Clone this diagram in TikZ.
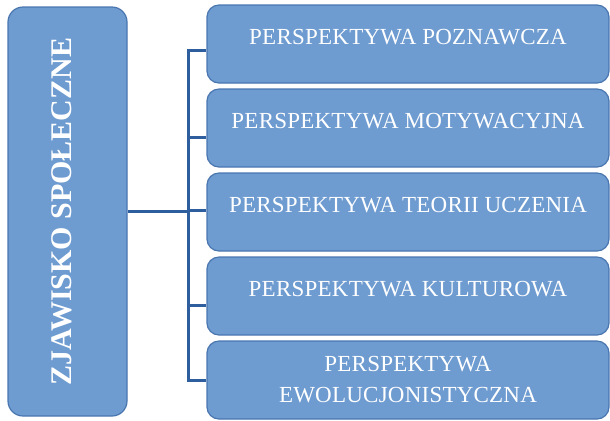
\documentclass[tikz,border=0pt]{standalone}
\usepackage{fontspec}
\setmainfont{Liberation Serif}
\newfontfamily\zsboxfont{Liberation Serif}[LetterSpace=1]
\usetikzlibrary{positioning,calc}
\definecolor{zsFill}{HTML}{6E9BD0}
\definecolor{zsEdge}{HTML}{4A76B0}
\definecolor{zsLine}{HTML}{2F5E9E}
\tikzset{
  zsmain/.style={
    rectangle, rounded corners=7.5pt, draw=zsEdge, line width=0.6pt,
    fill=zsFill, text=white, font=\bfseries\fontsize{15}{18}\selectfont,
    rotate=90, minimum width=204.5pt, minimum height=59.5pt,
    text height=9.9pt, text depth=6pt, inner sep=0pt
  },
  zsbox/.style={
    rectangle, rounded corners=6pt, draw=zsEdge, line width=0.6pt,
    fill=zsFill, text=white, font=\zsboxfont\fontsize{11.5}{15.5}\selectfont,
    align=center, minimum width=201pt, minimum height=39pt, inner sep=0pt
  },
  zsone/.style={zsbox, text height=7.6pt, text depth=6.8pt},
  zslink/.style={draw=zsLine, line width=1.5pt, line join=miter}
}

\begin{document}
\begin{tikzpicture}[x=0.5pt, y=-0.5pt, node distance=2.4pt]
\useasboundingbox (0,0) rectangle (610,420);

% Pojecie glowne (tekst obrocony)
\node[zsmain] (zj) at (67.5,211.5) {ZJAWISKO SPOŁECZNE};

% Perspektywy
\node[zsone] (p1) at (408,44) {PERSPEKTYWA POZNAWCZA};
\node[zsone, below=of p1] (p2) {PERSPEKTYWA MOTYWACYJNA};
\node[zsone, below=of p2] (p3) {PERSPEKTYWA TEORII UCZENIA};
\node[zsone, below=of p3] (p4) {PERSPEKTYWA KULTUROWA};
\node[zsbox, below=of p4] (p5) {PERSPEKTYWA\\EWOLUCJONISTYCZNA};

% Polaczenia
\coordinate (trunk) at (188,0);
\draw[zslink] (zj.south) -- (zj.south -| trunk);
\draw[zslink] ([yshift=-3pt]p1.west) -| (trunk |- p5.west) -- (p5.west);
\draw[zslink] ([yshift=-4.5pt]p2.west) -- +(-9.5pt,0);
\draw[zslink] ([yshift=1pt]p3.west) -- +(-9.5pt,0);
\draw[zslink] ([yshift=-4.5pt]p4.west) -- +(-9.5pt,0);

\end{tikzpicture}
\end{document}
